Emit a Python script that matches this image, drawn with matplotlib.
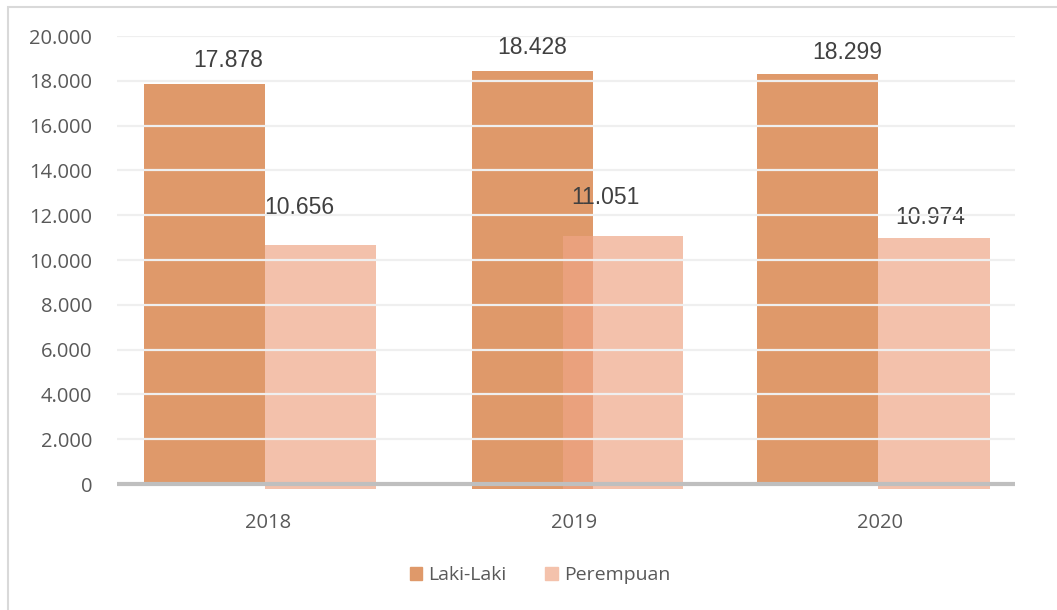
import numpy as np
import matplotlib
matplotlib.use('Agg')
import matplotlib.pyplot as plt
from matplotlib.patches import Rectangle, Patch
from matplotlib.ticker import FuncFormatter

# Data
years = ['2018', '2019', '2020']
laki = [17878, 18428, 18299]
perempuan = [10656, 11051, 10974]
series_names = ['Laki-Laki', 'Perempuan']

# Layout (in pixels, 306 px per category)
px = 1 / 306
laki_left = np.array([-124, -102, -123]) * px
laki_width = np.array([121, 121, 121]) * px
per_left = np.array([-3, -11, -2]) * px
per_width = np.array([111, 120, 112]) * px
# some bars poke a little below the baseline in the original
laki_floor = np.array([0, -230, 0])
per_floor = np.array([-230, -230, -230])
# label offsets (px) relative to bar top centre
laki_lab = [(24, 23), (0, 24), (30, 22)]
per_lab = [(-21, 38), (-18, 39), (-4, 21)]

c_laki = '#DF996A'
c_per = '#EFA686'
grey = '#595959'

fig = plt.figure(figsize=(10.57, 6.10), dpi=100)
ax = fig.add_axes([117 / 1057, 1 - 489.6 / 610, 898 / 1057, 453.6 / 610])

x = np.arange(len(years))
b1 = ax.bar(x + laki_left, np.array(laki) - laki_floor, bottom=laki_floor, width=laki_width,
            align='edge', color=c_laki, zorder=1)
b2 = ax.bar(x + per_left, np.array(perempuan) - per_floor, bottom=per_floor, width=per_width,
            align='edge', color=c_per, alpha=0.69, lw=0, zorder=2)

fmt = lambda v: f'{v:,.0f}'.replace(',', '.')

for bars, vals, offs in [(b1, laki, laki_lab), (b2, perempuan, per_lab)]:
    for bar, v, (dx, dy) in zip(bars, vals, offs):
        ax.annotate(fmt(v), (bar.get_x() + bar.get_width() / 2, v),
                    xytext=(dx * 0.72, dy * 0.72), textcoords='offset points',
                    ha='center', va='center', fontsize=16.5, color='#404040',
                    family='Liberation Sans', zorder=3)

ticks = np.arange(0, 20001, 2000)
for t in ticks[1:]:
    ax.axhline(t, color='#efefef', lw=1.6, zorder=5)
ax.axhline(0, color='#bfbfbf', lw=3, zorder=6)

ax.set_xlim((117 - 268) * px, (1015 - 268) * px)
ax.set_ylim(-250, 20000)
ax.set_yticks(ticks)
ax.yaxis.set_major_formatter(FuncFormatter(lambda v, p: fmt(v)))
ax.set_xticks(x)
ax.set_xticklabels(years)
ax.tick_params(axis='both', length=0, labelsize=14.5, labelcolor=grey)
ax.tick_params(axis='y', pad=18)
ax.tick_params(axis='x', pad=17)
for lab in ax.get_xticklabels() + ax.get_yticklabels():
    lab.set_family('Open Sans')
for s in ax.spines.values():
    s.set_visible(False)

handles = [Patch(color=c_laki), Patch(color='#F4C2AC')]
fig.legend(handles, series_names, loc='center', bbox_to_anchor=(540 / 1057, 1 - 575 / 610),
           ncol=2, frameon=False, handlelength=0.65, handleheight=0.65, handletextpad=0.3,
           columnspacing=2.0, prop={'family': 'Open Sans', 'size': 14}, labelcolor=grey)

fig.add_artist(Rectangle((8 / 1057, -0.01), 1.0, 1 - 7 / 610 + 0.01, transform=fig.transFigure,
                         fill=False, ec='#d9d9d9', lw=1.5))

fig.savefig('out.png', dpi=100)
